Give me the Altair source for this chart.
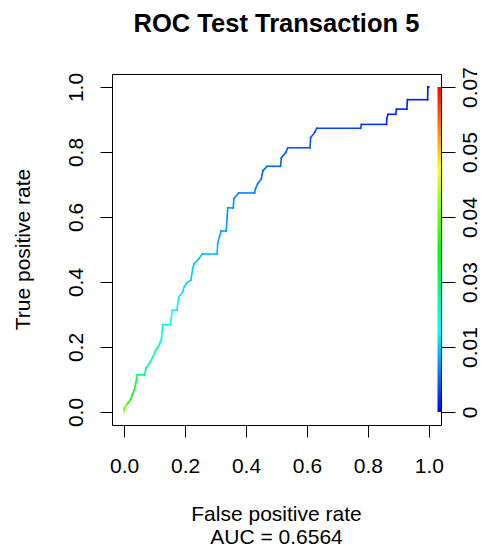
import json
import altair as alt
import pandas as pd

# ROC curve vertices (false positive rate, true positive rate) and cutoff at each vertex
fpr = [0.0, 0.0, 0.011, 0.021, 0.027, 0.033, 0.040, 0.043, 0.066, 0.073, 0.085, 0.094,
       0.103, 0.112, 0.117, 0.123, 0.125, 0.127, 0.151, 0.154, 0.158, 0.173, 0.179, 0.192,
       0.197, 0.206, 0.219, 0.225, 0.230, 0.244, 0.256, 0.305, 0.307, 0.313, 0.318, 0.335,
       0.338, 0.340, 0.358, 0.360, 0.376, 0.428, 0.431, 0.438, 0.450, 0.453, 0.456, 0.469,
       0.513, 0.516, 0.530, 0.537, 0.610, 0.612, 0.625, 0.632, 0.776, 0.779, 0.861, 0.862,
       0.866, 0.891, 0.894, 0.928, 0.930, 0.996, 0.997, 1.0]
tpr = [0.0, 0.011, 0.026, 0.039, 0.055, 0.067, 0.096, 0.114, 0.114, 0.137, 0.153, 0.170,
       0.189, 0.201, 0.211, 0.230, 0.251, 0.269, 0.269, 0.284, 0.313, 0.313, 0.354, 0.369,
       0.385, 0.398, 0.406, 0.442, 0.457, 0.470, 0.486, 0.486, 0.519, 0.540, 0.557, 0.557,
       0.597, 0.628, 0.628, 0.656, 0.674, 0.674, 0.687, 0.702, 0.717, 0.731, 0.743, 0.756,
       0.756, 0.782, 0.798, 0.813, 0.813, 0.844, 0.860, 0.873, 0.873, 0.885, 0.885, 0.903,
       0.916, 0.916, 0.932, 0.932, 0.961, 0.961, 1.0, 1.0]
cutoff = [0.043, 0.040, 0.037, 0.035, 0.033, 0.031, 0.029, 0.027, 0.026, 0.025, 0.024, 0.023,
          0.022, 0.021, 0.0205, 0.020, 0.019, 0.018, 0.0175, 0.017, 0.0165, 0.016, 0.0155, 0.015,
          0.0145, 0.014, 0.0137, 0.0133, 0.013, 0.0127, 0.0123, 0.012, 0.0115, 0.011, 0.0107, 0.0104,
          0.010, 0.0097, 0.0094, 0.009, 0.0087, 0.0084, 0.0081, 0.0078, 0.0075, 0.0072, 0.007, 0.0068,
          0.0065, 0.0062, 0.006, 0.0057, 0.0054, 0.0051, 0.0048, 0.0045, 0.0038, 0.0034, 0.003, 0.0028,
          0.0026, 0.0023, 0.0021, 0.0018, 0.0015, 0.0012, 0.0008, 0.0005]

axis_ticks = [0.0, 0.2, 0.4, 0.6, 0.8, 1.0]
key_positions = [0.0, 0.2, 0.4, 0.6, 0.8, 1.0]
key_labels = ["0", "0.01", "0.03", "0.04", "0.05", "0.07"]
cutoff_max = 0.068
rainbow = ["#0000FF", "#00FFFF", "#00FF00", "#FFFF00", "#FF0000"]

title_text = "ROC Test Transaction 5"
x_title = "False positive rate"
y_title = "True positive rate"
auc_text = "AUC = 0.6564"

FONT = "Liberation Sans"
W, H = 329, 351
dom = [-0.04, 1.04]

seg = pd.DataFrame({
    "x": fpr[:-1], "y": tpr[:-1], "x2": fpr[1:], "y2": tpr[1:], "c": cutoff[:-1],
})

xs = alt.Scale(domain=dom, nice=False, zero=False)
ys = alt.Scale(domain=dom, nice=False, zero=False)

curve = alt.Chart(seg).mark_rule(strokeWidth=1.6, strokeCap="square").encode(
    x=alt.X("x:Q", scale=xs, axis=alt.Axis(
        values=axis_ticks, format=".1f", title=None, tickSize=12,
        labelPadding=35.5, labelBaseline="alphabetic", labelAlign="center")),
    x2="x2:Q",
    y=alt.Y("y:Q", scale=ys, axis=alt.Axis(
        values=axis_ticks, format=".1f", title=None, tickSize=12, orient="left",
        labelPadding=18, labelAngle=270, labelAlign="center", labelBaseline="alphabetic")),
    y2="y2:Q",
    color=alt.Color("c:Q", legend=None, scale=alt.Scale(
        domain=[0, cutoff_max], range=rainbow, interpolate="rgb")),
)

grad = alt.Gradient(
    gradient="linear",
    stops=[alt.GradientStop(color=c, offset=i / (len(rainbow) - 1)) for i, c in enumerate(rainbow)],
    x1=0, x2=0, y1=1, y2=0,
)
key_df = pd.DataFrame({"lo": [key_positions[0]], "hi": [key_positions[-1]]})
label_expr = json.dumps(key_labels) + "[round(datum.value*5)]"
colorbar = alt.Chart(key_df).mark_rect(fill=grad).encode(
    x=alt.value(325.5), x2=alt.value(329),
    y=alt.Y("lo:Q", scale=alt.Scale(domain=dom, nice=False, zero=False), axis=alt.Axis(
        orient="right", values=key_positions, labelExpr=label_expr, title=None,
        tickSize=14, labelPadding=21, labelAngle=270, labelAlign="center",
        labelBaseline="alphabetic")),
    y2="hi:Q",
)

def txt(s, x, y, size, weight="normal", angle=0):
    return alt.Chart(pd.DataFrame({"t": [s]})).mark_text(
        font=FONT, fontSize=size, fontWeight=weight, angle=angle,
        align="center", baseline="alphabetic", color="#000",
    ).encode(text="t:N", x=alt.value(x), y=alt.value(y))

texts = [
    txt(title_text, W / 2, -42, 25.5, "bold"),
    txt(x_title, W / 2, 447, 21),
    txt(auc_text, W / 2, 469.5, 21),
    txt(y_title, -82, H / 2, 21, angle=270),
]

chart = alt.layer(curve, colorbar, *texts).resolve_scale(y="independent").properties(
    width=W, height=H,
    autosize=alt.AutoSizeParams(type="none"),
    padding={"left": 104, "top": 66, "right": 41, "bottom": 121},
).configure_view(stroke="#000", strokeWidth=1).configure_axis(
    labelFont=FONT, labelFontSize=21, labelColor="#000", tickColor="#000",
    tickWidth=1, domain=False, grid=False,
)

chart.save("out.html", embed_options={"renderer": "svg", "actions": False})
